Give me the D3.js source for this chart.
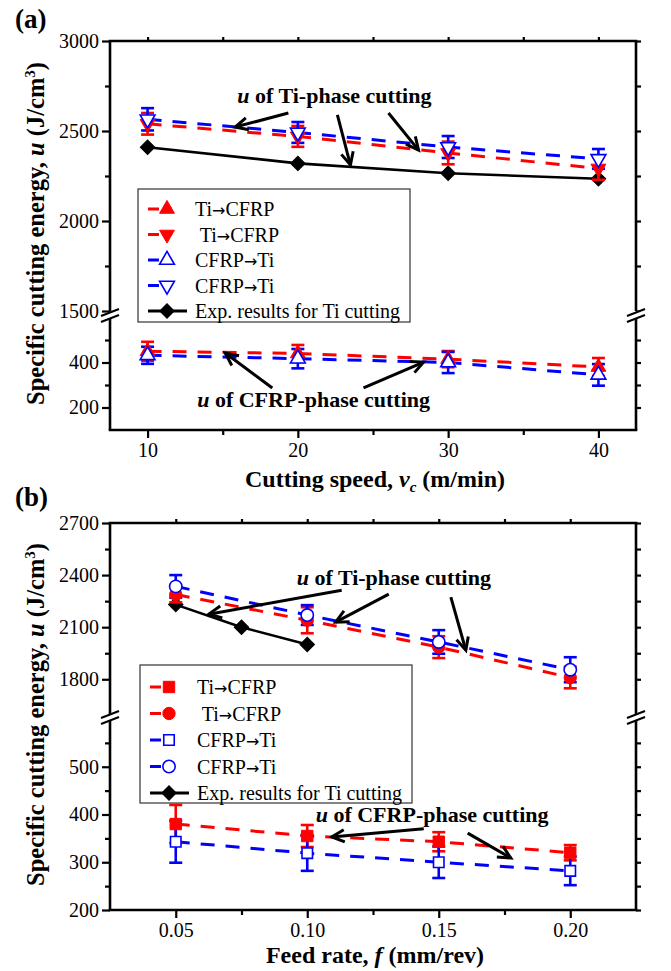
<!DOCTYPE html>
<html><head><meta charset="utf-8">
<script src="https://cdn.jsdelivr.net/npm/d3@7"></script>
<style>body{margin:0;background:#fff} svg{display:block} text{font-family:"Liberation Serif","Times New Roman",serif}</style>
</head><body><svg id="c" width="671" height="971"></svg>
<script>
// ---------------- DATA ----------------
// Panel (a): cutting speed (m/min)
const speed = [10, 20, 30, 40];
const a_TiCFRP_CFRPphase = [450, 440, 415, 380];
const a_TiCFRP_CFRPphase_err = [42, 38, 36, 40];
const a_TiCFRP_Tiphase = [2540, 2470, 2378, 2292];
const a_TiCFRP_Tiphase_err = [60, 58, 63, 63];
const a_CFRPTi_CFRPphase = [432, 417, 400, 345];
const a_CFRPTi_CFRPphase_err = [38, 43, 47, 48];
const a_CFRPTi_Tiphase = [2565, 2492, 2411, 2345];
const a_CFRPTi_Tiphase_err = [62, 58, 61, 55];
const a_exp = [2410, 2320, 2265, 2235];

// Panel (b): feed rate (mm/rev)
const feed = [0.05, 0.10, 0.15, 0.20];
const b_TiCFRP_CFRPphase = [380, 355, 343, 320];
const b_TiCFRP_CFRPphase_err = [40, 23, 20, 16];
const b_TiCFRP_Tiphase = [2288, 2140, 1985, 1810];
const b_TiCFRP_Tiphase_err = [45, 75, 63, 62];
const b_CFRPTi_CFRPphase = [343, 319, 300, 282];
const b_CFRPTi_CFRPphase_err = [44, 37, 33, 30];
const b_CFRPTi_Tiphase = [2335, 2170, 2015, 1855];
const b_CFRPTi_Tiphase_err = [65, 57, 68, 72];
const feedExp = [0.05, 0.075, 0.10];
const b_exp = [2230, 2100, 2000];

// Ticks
const a_xTicks = [10, 20, 30, 40];
const a_xMinor = [15, 25, 35];
const a_yUpperTicks = [1500, 2000, 2500, 3000];
const a_yUpperMinor = [1750, 2250, 2750];
const a_yLowerTicks = [200, 400];
const a_yLowerMinor = [300, 500];
const b_xTicks = [0.05, 0.10, 0.15, 0.20];
const b_xMinor = [0.075, 0.125, 0.175];
const b_yUpperTicks = [1800, 2100, 2400, 2700];
const b_yUpperMinor = [1950, 2250, 2550];
const b_yLowerTicks = [200, 300, 400, 500];
const b_yLowerMinor = [250, 350, 450, 550];

const legendLabels = ["Ti\u2192CFRP", " Ti\u2192CFRP", "CFRP\u2192Ti", "CFRP\u2192Ti", "Exp. results for Ti cutting"];

// ---------------- DRAWING ----------------
const svg = d3.select('#c');
const RED = '#ff0000', BLUE = '#0000ff';
const SERIF = '"Liberation Serif","Times New Roman",serif';

function sym(type, size, rot) { return { type, size, rot: rot || 0 }; }
const DIAMOND = sym(d3.symbolSquare, 105, 45);

function drawMarker(g, cx, cy, m, color, filled) {
  return g.append('path')
    .attr('d', d3.symbol().type(m.type).size(m.size)())
    .attr('transform', `translate(${cx},${cy}) rotate(${m.rot})`)
    .attr('fill', filled ? color : '#fff')
    .attr('stroke', color)
    .attr('stroke-width', filled ? 1 : 1.6);
}

function styleAxis(sel, fontSize) {
  sel.select('.domain').remove();
  sel.selectAll('.tick line').attr('stroke', '#000').attr('stroke-width', 2.2);
  sel.selectAll('.tick text').attr('fill', '#000').style('font-size', fontSize + 'px')
    .style('font-family', SERIF);
}

function arrow(g, x1, y1, x2, y2) {
  g.append('line').attr('x1', x1).attr('y1', y1).attr('x2', x2).attr('y2', y2)
    .attr('stroke', '#000').attr('stroke-width', 3);
  const ang = Math.atan2(y2 - y1, x2 - x1);
  const L = 14, spread = 0.45;
  const pts = [[x2 - L * Math.cos(ang - spread), y2 - L * Math.sin(ang - spread)], [x2, y2],
               [x2 - L * Math.cos(ang + spread), y2 - L * Math.sin(ang + spread)]];
  g.append('path').attr('d', d3.line()(pts)).attr('fill', 'none')
    .attr('stroke', '#000').attr('stroke-width', 3).attr('stroke-linejoin', 'miter');
}

function annotText(g, x, y, rest) {
  const t = g.append('text').attr('x', x).attr('y', y)
    .style('font-size', '22px').style('font-weight', 'bold');
  t.append('tspan').style('font-style', 'italic').text('u');
  t.append('tspan').text(rest);
}

function legendText(t, label) {
  const parts = label.split('\u2192');
  t.append('tspan').text(parts[0]);
  if (parts.length > 1) {
    t.append('tspan').style('font-family', '"DejaVu Sans",sans-serif').style('font-size', '16px').text('\u2192');
    t.append('tspan').text(parts[1]);
  }
}

function drawPanel(cfg) {
  const g = svg.append('g');
  const x = d3.scaleLinear().domain(cfg.xDomain).range([cfg.left, cfg.right]);
  const yU = d3.scaleLinear().domain(cfg.upperDomain).range(cfg.upperRange);
  const yL = d3.scaleLinear().domain(cfg.lowerDomain).range(cfg.lowerRange);
  const Y = seg => seg === 'upper' ? yU : yL;

  // ----- series -----
  const plot = g.append('g');
  const ex = cfg.exp;
  plot.append('path')
    .attr('d', d3.line().x(d => x(d[0])).y(d => yU(d[1]))(ex.xs.map((v, i) => [v, ex.vals[i]])))
    .attr('fill', 'none').attr('stroke', '#000').attr('stroke-width', 2.6);
  ex.xs.forEach((v, i) => drawMarker(plot, x(v), yU(ex.vals[i]), DIAMOND, '#000', true));

  const series = cfg.series;
  series.forEach(s => {
    const ys = Y(s.seg);
    plot.append('path')
      .attr('d', d3.line().x(d => x(d[0])).y(d => ys(d[1]))(cfg.xs.map((v, i) => [v, s.vals[i]])))
      .attr('fill', 'none').attr('stroke', s.color).attr('stroke-width', 3)
      .attr('stroke-dasharray', cfg.dash);
  });
  series.forEach(s => {
    const ys = Y(s.seg);
    cfg.xs.forEach((v, i) => {
      const cx = x(v), top = ys(s.vals[i] + s.err[i]), bot = ys(s.vals[i] - s.err[i]);
      plot.append('line').attr('x1', cx).attr('x2', cx).attr('y1', top).attr('y2', bot)
        .attr('stroke', s.color).attr('stroke-width', 2.6);
      [top, bot].forEach(yy => plot.append('line').attr('x1', cx - 6.5).attr('x2', cx + 6.5)
        .attr('y1', yy).attr('y2', yy).attr('stroke', s.color).attr('stroke-width', 2.6));
    });
  });
  series.forEach(s => {
    const ys = Y(s.seg);
    cfg.xs.forEach((v, i) => drawMarker(plot, x(v), ys(s.vals[i]), s.marker, s.color, s.filled));
  });

  // ----- axes -----
  const bAx = g.append('g').attr('transform', `translate(0,${cfg.bottom})`)
    .call(d3.axisBottom(x).tickValues(cfg.xTicks).tickSize(8).tickPadding(5).tickFormat(cfg.xFmt));
  styleAxis(bAx, 20);
  const bMin = g.append('g').attr('transform', `translate(0,${cfg.bottom})`)
    .call(d3.axisBottom(x).tickValues(cfg.xMinor).tickSize(5).tickFormat(''));
  styleAxis(bMin, 20);
  const tAx = g.append('g').attr('transform', `translate(0,${cfg.top})`)
    .call(d3.axisTop(x).tickValues(cfg.xTicks.concat(cfg.xMinor)).tickSize(4).tickFormat(''));
  styleAxis(tAx, 20);

  [[yU, cfg.upperTicks, cfg.upperMinor], [yL, cfg.lowerTicks, cfg.lowerMinor]].forEach(([sc, maj, mn]) => {
    const l = g.append('g').attr('transform', `translate(${cfg.left},0)`)
      .call(d3.axisLeft(sc).tickValues(maj).tickSize(8).tickPadding(3).tickFormat(d3.format('d')));
    styleAxis(l, 20);
    const lm = g.append('g').attr('transform', `translate(${cfg.left},0)`)
      .call(d3.axisLeft(sc).tickValues(mn).tickSize(5).tickFormat(''));
    styleAxis(lm, 20);
    const r = g.append('g').attr('transform', `translate(${cfg.right},0)`)
      .call(d3.axisRight(sc).tickValues(maj.concat(mn)).tickSize(5).tickFormat(''));
    styleAxis(r, 20);
  });

  const fr = g.append('g').attr('stroke', '#000').attr('stroke-width', 2.6).attr('fill', 'none');
  fr.append('line').attr('x1', cfg.left - 1.3).attr('x2', cfg.right + 1.3).attr('y1', cfg.top).attr('y2', cfg.top);
  fr.append('line').attr('x1', cfg.left - 1.3).attr('x2', cfg.right + 1.3).attr('y1', cfg.bottom).attr('y2', cfg.bottom);
  [cfg.left, cfg.right].forEach(xx => {
    fr.append('line').attr('x1', xx).attr('x2', xx).attr('y1', cfg.top).attr('y2', cfg.upperRange[0]);
    fr.append('line').attr('x1', xx).attr('x2', xx).attr('y1', cfg.lowerRange[1]).attr('y2', cfg.bottom);
  });

  // ----- legend -----
  const lg = g.append('g');
  const L = cfg.legend;
  lg.append('rect').attr('x', L.x).attr('y', L.y).attr('width', L.w).attr('height', L.h)
    .attr('fill', '#fff').attr('stroke', '#333').attr('stroke-width', 1.2);
  const entries = series.map(s => ({ color: s.color, marker: s.marker, filled: s.filled, dash: true }))
    .concat([{ color: '#000', marker: DIAMOND, filled: true, dash: false }]);
  entries.forEach((e, i) => {
    const yy = L.y + L.first + i * L.step;
    lg.append('line').attr('x1', L.x + 10).attr('x2', L.x + 49).attr('y1', yy).attr('y2', yy)
      .attr('stroke', e.color).attr('stroke-width', 3)
      .attr('stroke-dasharray', e.dash ? '11,4,9,30,9,4' : null);
    drawMarker(lg, L.x + 29, yy, e.marker, e.color, e.filled);
    const t = lg.append('text').attr('x', L.x + 57).attr('y', yy + 7).style('font-size', '20px')
      .attr('xml:space', 'preserve').style('white-space', 'pre');
    legendText(t, legendLabels[i]);
  });

  // break marks
  const bk = g.append('g');
  [cfg.left, cfg.right].forEach(xx => {
    const yc = cfg.breakY;
    bk.append('path').attr('d', `M${xx - 9},${yc + 2} L${xx + 9},${yc - 5} L${xx + 9},${yc + 1} L${xx - 9},${yc + 8} Z`)
      .attr('fill', '#fff');
    bk.append('line').attr('x1', xx - 9).attr('y1', yc + 2).attr('x2', xx + 9).attr('y2', yc - 5)
      .attr('stroke', '#000').attr('stroke-width', 2);
    bk.append('line').attr('x1', xx - 9).attr('y1', yc + 8).attr('x2', xx + 9).attr('y2', yc + 1)
      .attr('stroke', '#000').attr('stroke-width', 2);
  });

  // ----- annotations (data coords) -----
  const an = g.append('g');
  cfg.arrows.forEach(a => {
    const ys = Y(a.seg);
    arrow(an, x(a.x1), ys(a.v1), x(a.x2), ys(a.v2));
  });
  cfg.texts.forEach(t => annotText(an, x(t.x), Y(t.seg)(t.v), t.rest));

  // ----- titles -----
  const xt = g.append('text').attr('x', (cfg.left + cfg.right) / 2 + 2).attr('y', cfg.xTitleY)
    .attr('text-anchor', 'middle').style('font-size', '24px').style('font-weight', 'bold');
  cfg.xTitle(xt);
  const yt = g.append('text').attr('transform', `translate(44,${(cfg.top + cfg.bottom) / 2 - 2}) rotate(-90)`)
    .attr('text-anchor', 'middle').style('font-size', '24.5px').style('font-weight', 'bold');
  yt.append('tspan').text('Specific cutting energy, ');
  yt.append('tspan').style('font-style', 'italic').text('u');
  yt.append('tspan').text(' (J/cm');
  yt.append('tspan').attr('dy', -9).style('font-size', '15px').text('3');
  yt.append('tspan').attr('dy', 9).text(')');
  g.append('text').attr('x', 15).attr('y', cfg.labelY).style('font-size', '27px')
    .style('font-weight', 'bold').text(cfg.label);
}

drawPanel({
  label: '(a)', labelY: 28,
  left: 110, right: 636, top: 41, bottom: 430,
  xDomain: [7.5, 42.5], xs: speed, xTicks: a_xTicks, xMinor: a_xMinor, xFmt: d3.format('d'),
  upperDomain: [1500, 3000], upperRange: [311, 41],
  lowerDomain: [100, 600], lowerRange: [430, 317.5],
  upperTicks: a_yUpperTicks, upperMinor: a_yUpperMinor,
  lowerTicks: a_yLowerTicks, lowerMinor: a_yLowerMinor,
  breakY: 314, dash: '14,11',
  series: [
    { seg: 'lower', vals: a_TiCFRP_CFRPphase, err: a_TiCFRP_CFRPphase_err, color: RED, filled: true, marker: sym(d3.symbolTriangle, 95, 0) },
    { seg: 'upper', vals: a_TiCFRP_Tiphase, err: a_TiCFRP_Tiphase_err, color: RED, filled: true, marker: sym(d3.symbolTriangle, 95, 180) },
    { seg: 'lower', vals: a_CFRPTi_CFRPphase, err: a_CFRPTi_CFRPphase_err, color: BLUE, filled: false, marker: sym(d3.symbolTriangle, 95, 0) },
    { seg: 'upper', vals: a_CFRPTi_Tiphase, err: a_CFRPTi_Tiphase_err, color: BLUE, filled: false, marker: sym(d3.symbolTriangle, 95, 180) }
  ],
  exp: { xs: speed, vals: a_exp },
  legend: { x: 138, y: 189, w: 272, h: 133, first: 20, step: 25.5 },
  arrows: [
    { seg: 'upper', x1: 19.37, v1: 2600, x2: 15.83, v2: 2522 },
    { seg: 'upper', x1: 22.63, v1: 2589, x2: 23.5, v2: 2311 },
    { seg: 'upper', x1: 26.03, v1: 2600, x2: 28.03, v2: 2394 },
    { seg: 'lower', x1: 18.3, v1: 287, x2: 15.17, v2: 442 },
    { seg: 'lower', x1: 24.37, v1: 287, x2: 28.37, v2: 402 }
  ],
  texts: [
    { seg: 'upper', x: 15.97, v: 2656, rest: ' of Ti-phase cutting' },
    { seg: 'lower', x: 13.3, v: 202, rest: ' of CFRP-phase cutting' }
  ],
  xTitleY: 487,
  xTitle: t => {
    t.append('tspan').text('Cutting speed, ');
    t.append('tspan').style('font-style', 'italic').text('v');
    t.append('tspan').style('font-style', 'italic').style('font-size', '15px').attr('dy', 5).text('c');
    t.append('tspan').attr('dy', -5).text(' (m/min)');
  }
});

drawPanel({
  label: '(b)', labelY: 506,
  left: 110, right: 636, top: 523, bottom: 910,
  xDomain: [0.025, 0.225], xs: feed, xTicks: b_xTicks, xMinor: b_xMinor, xFmt: d3.format('.2f'),
  upperDomain: [1600, 2700], upperRange: [714, 523],
  lowerDomain: [200, 600], lowerRange: [910, 719],
  upperTicks: b_yUpperTicks, upperMinor: b_yUpperMinor,
  lowerTicks: b_yLowerTicks, lowerMinor: b_yLowerMinor,
  breakY: 716, dash: '14,11',
  series: [
    { seg: 'lower', vals: b_TiCFRP_CFRPphase, err: b_TiCFRP_CFRPphase_err, color: RED, filled: true, marker: sym(d3.symbolSquare, 130) },
    { seg: 'upper', vals: b_TiCFRP_Tiphase, err: b_TiCFRP_Tiphase_err, color: RED, filled: true, marker: sym(d3.symbolCircle, 120) },
    { seg: 'lower', vals: b_CFRPTi_CFRPphase, err: b_CFRPTi_CFRPphase_err, color: BLUE, filled: false, marker: sym(d3.symbolSquare, 110) },
    { seg: 'upper', vals: b_CFRPTi_Tiphase, err: b_CFRPTi_Tiphase_err, color: BLUE, filled: false, marker: sym(d3.symbolCircle, 120) }
  ],
  exp: { xs: feedExp, vals: b_exp },
  legend: { x: 140, y: 665, w: 272, h: 138, first: 22, step: 26.5 },
  arrows: [
    { seg: 'upper', x1: 0.1131, v1: 2313, x2: 0.0626, v2: 2175 },
    { seg: 'upper', x1: 0.1310, v1: 2290, x2: 0.1108, v2: 2129 },
    { seg: 'upper', x1: 0.1546, v1: 2273, x2: 0.1603, v2: 1967 },
    { seg: 'lower', x1: 0.1443, v1: 370, x2: 0.1093, v2: 353 },
    { seg: 'lower', x1: 0.1610, v1: 361, x2: 0.1774, v2: 309 }
  ],
  texts: [
    { seg: 'upper', x: 0.0960, v: 2342, rest: ' of Ti-phase cutting' },
    { seg: 'lower', x: 0.1032, v: 384, rest: ' of CFRP-phase cutting' }
  ],
  xTitleY: 963,
  xTitle: t => {
    t.append('tspan').text('Feed rate, ');
    t.append('tspan').style('font-style', 'italic').text('f');
    t.append('tspan').text(' (mm/rev)');
  }
});
</script></body></html>
